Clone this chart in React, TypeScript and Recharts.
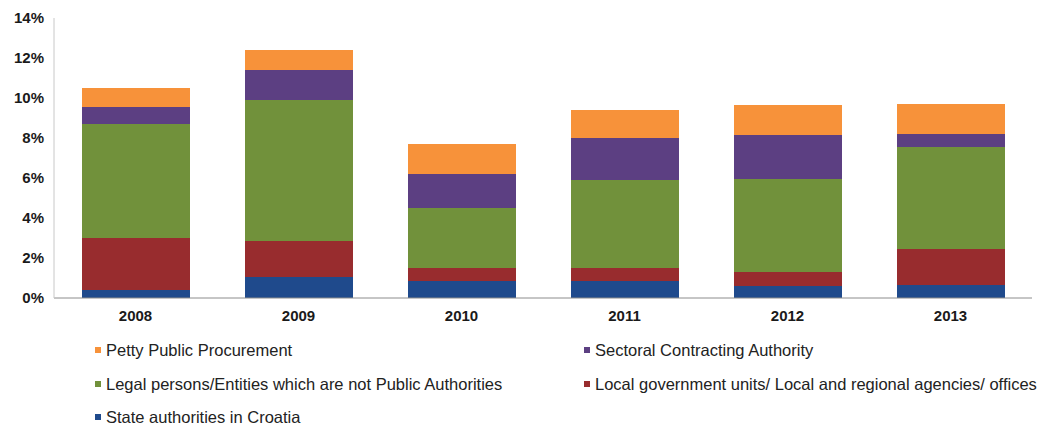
import React from 'react';
import { BarChart, Bar, XAxis, YAxis, Legend } from 'recharts';

const years = ['2008', '2009', '2010', '2011', '2012', '2013'];
const stateAuthorities = [0.4, 1.05, 0.85, 0.85, 0.6, 0.65];
const localGovernment = [2.6, 1.8, 0.65, 0.65, 0.7, 1.8];
const legalPersons = [5.7, 7.05, 3.0, 4.4, 4.65, 5.1];
const sectoral = [0.85, 1.5, 1.7, 2.1, 2.2, 0.65];
const petty = [0.95, 1.0, 1.5, 1.4, 1.5, 1.5];
const yTicks = [0, 2, 4, 6, 8, 10, 12, 14];

const series = [
  { key: 'state', name: 'State authorities in Croatia', color: '#1f4a8c' },
  { key: 'local', name: 'Local government units/ Local and regional agencies/ offices', color: '#982c2e' },
  { key: 'legal', name: 'Legal persons/Entities which are not Public Authorities', color: '#71913b' },
  { key: 'sectoral', name: 'Sectoral Contracting Authority', color: '#5c3f82' },
  { key: 'petty', name: 'Petty Public Procurement', color: '#f7923a' },
];

const data = years.map((year, i) => ({
  year,
  state: stateAuthorities[i],
  local: localGovernment[i],
  legal: legalPersons[i],
  sectoral: sectoral[i],
  petty: petty[i],
}));

// legend order as in the original: two columns, top series first
const legendRows = [
  ['petty', 'sectoral'],
  ['legal', 'local'],
  ['state'],
];
const rowCenters = [27, 61, 94];

const LegendBox = () => (
  <div style={{ position: 'relative', height: 105, width: 1040 }}>
    {legendRows.map((row, r) =>
      row.map((key, c) => {
        const s = series.find((x) => x.key === key)!;
        return (
          <div
            key={key}
            style={{
              position: 'absolute',
              left: c === 0 ? 95 : 584,
              top: rowCenters[r] - 10,
              height: 20,
              display: 'flex',
              alignItems: 'center',
              fontFamily: 'Liberation Sans, Arial, sans-serif',
              fontSize: 16.5,
              color: '#222',
              whiteSpace: 'nowrap',
            }}
          >
            <span style={{ width: 6, height: 6, background: s.color, marginRight: 5, display: 'inline-block' }} />
            {s.name}
          </div>
        );
      })
    )}
  </div>
);

const App: React.FC = () => {
  const tickStyle = { fontFamily: 'Liberation Sans, Arial, sans-serif', fontSize: 15, fontWeight: 700, fill: '#1a1a1a' };
  return (
    <div style={{ position: 'absolute', left: 0, top: 0, background: '#fff' }}>
      <BarChart width={1049} height={428} data={data} margin={{ top: 18, right: 17, left: 0, bottom: 0 }}>
        <XAxis
          dataKey="year"
          height={25}
          tick={tickStyle}
          tickLine={false}
          dy={4}
          axisLine={{ stroke: '#8c8c8c' }}
        />
        <YAxis
          width={54}
          domain={[0, 14]}
          ticks={yTicks}
          tickFormatter={(v) => `${v}%`}
          tick={tickStyle}
          tickLine={false}
          dx={-2}
          axisLine={{ stroke: '#c8c8c8' }}
        />
        <Legend verticalAlign="bottom" height={105} content={() => <LegendBox />} />
        {series.map((s) => (
          <Bar key={s.key} dataKey={s.key} name={s.name} stackId="a" fill={s.color} barSize={108} isAnimationActive={false} />
        ))}
      </BarChart>
    </div>
  );
};

export default App;
